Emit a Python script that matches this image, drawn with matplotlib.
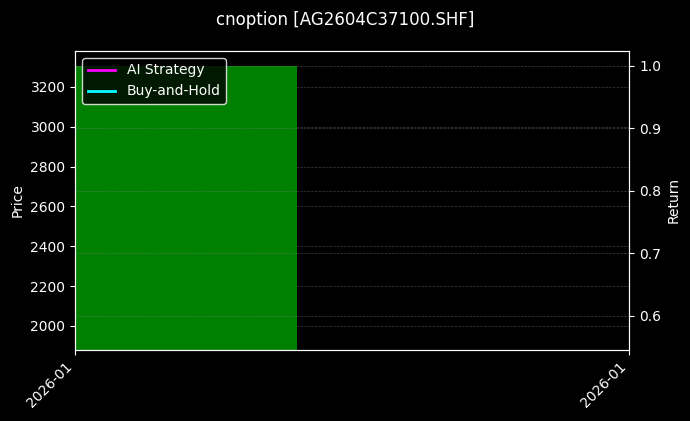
import matplotlib
matplotlib.use("Agg")
import matplotlib.pyplot as plt
import matplotlib.dates as mdates
import datetime as dt

# one trading day of data
dates = [dt.datetime(2026, 1, 5)]
price_low = [1800.0]
price_high = [3305.0]
ai_strategy = [1.0]
buy_and_hold = [1.0]
tick_labels = ["2026-01", "2026-01"]

plt.style.use("dark_background")
fig, ax = plt.subplots(figsize=(6.9, 4.21), dpi=100)
fig.subplots_adjust(left=0.109, right=0.912, top=0.879, bottom=0.169)

x = mdates.date2num(dates)
ax.bar(x, [h - l for h, l in zip(price_high, price_low)], bottom=price_low,
       width=0.4, align="edge", color="green", zorder=2)
ax.set_xlim(x[0], x[0] + 1.0)
ax.set_ylim(1880, 3380)
ax.set_ylabel("Price")
ax.grid(True, axis="y", linestyle="--", linewidth=0.5, color="gray", alpha=0.5)

ax2 = ax.twinx()
ax2.plot(x, ai_strategy, color="magenta", linewidth=2, label="AI Strategy")
ax2.plot(x, buy_and_hold, color="cyan", linewidth=2, label="Buy-and-Hold")
ax2.set_ylim(0.5456, 1.024)
ax2.set_ylabel("Return")
ax2.grid(True, axis="y", linestyle="--", linewidth=0.5, color="gray", alpha=0.5)
ax2.legend(loc="upper left", facecolor="black", edgecolor="white", framealpha=0.8)

ax.set_xticks([x[0], x[0] + 1.0])
ax.set_xticklabels(tick_labels, rotation=45, ha="right")

fig.suptitle("cnoption [AG2604C37100.SHF]", fontsize=12, y=0.975)
fig.savefig("out.png", dpi=100)
